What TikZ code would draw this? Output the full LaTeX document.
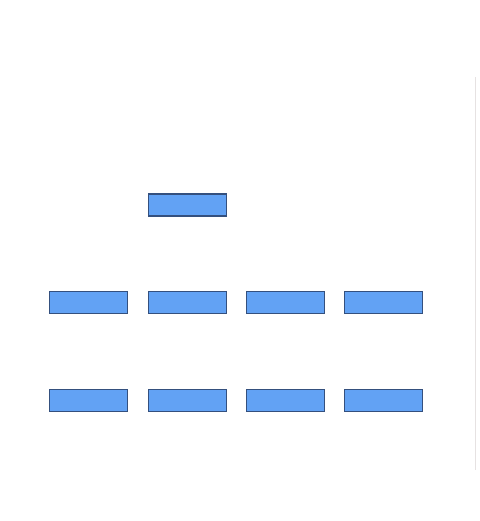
\documentclass[tikz,border=0pt]{standalone}
\usepackage{tikz}
\definecolor{boxfill}{HTML}{62A2F4}
\definecolor{boxline}{HTML}{34507E}
\definecolor{faint}{HTML}{E6E2E2}

\begin{document}
\begin{tikzpicture}[x=1pt,y=-1pt]
\tikzstyle{block} =[rectangle, fill = boxfill, draw = boxline, line width=1.2pt, inner sep=0pt, minimum width=78pt, minimum height=22pt]
\useasboundingbox (0,0) rectangle (479,521);

\node[block](top) at (187.5,205){};

\node[block](m1) at (88.5,302.5){};
\node[block](m2) at (187.5,302.5){};
\node[block](m3) at (285.5,302.5){};
\node[block](m4) at (383.5,302.5){};

\node[block](b1) at (88.5,400.5){};
\node[block](b2) at (187.5,400.5){};
\node[block](b3) at (285.5,400.5){};
\node[block](b4) at (383.5,400.5){};

\coordinate (edgetop) at (475,77);
\coordinate (edgebot) at (475,470);
\draw[faint, line width=0.8pt] (edgetop) -- (edgebot);
\end{tikzpicture}
\end{document}
